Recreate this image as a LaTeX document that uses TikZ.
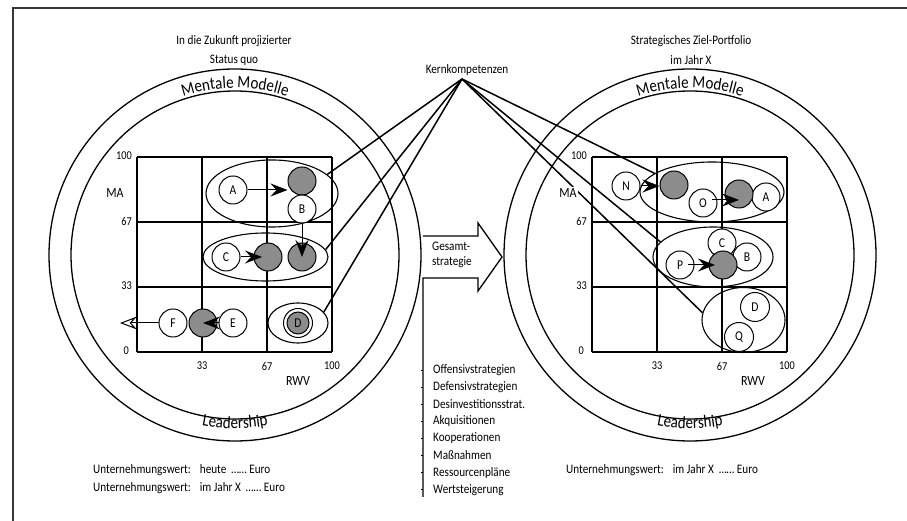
\documentclass[tikz,border=0pt]{standalone}
\usepackage{fontspec}
\setmainfont{Carlito}[FakeStretch=0.86]
\usetikzlibrary{shapes.geometric,arrows.meta,decorations.text,calc}
\definecolor{bubgray}{RGB}{140,140,140}
\definecolor{framegray}{RGB}{55,55,55}
\newcommand\lblfont{\fontsize{13}{15}\selectfont}
\newcommand\tickfont{\fontsize{12}{13}\selectfont}
\newcommand\axfont{\fontsize{14}{15}\selectfont}
\newcommand\bubfont{\fontsize{13.5}{14}\selectfont}
\newcommand\arcfont{\fontsize{17.5}{18}\selectfont}
\begin{document}
\begin{tikzpicture}[x=1pt,y=1pt,
  ring/.style={line width=1.3pt},
  gridl/.style={line width=1.2pt},
  bub/.style={circle, draw, fill=white, minimum size=28pt, inner sep=0pt, line width=1pt, font=\bubfont},
  gbub/.style={bub, fill=bubgray},
  grp/.style={ellipse, draw, inner sep=0pt, line width=1.1pt},
  arr/.style={-{Stealth[length=17pt,width=13pt,inset=6pt]}, line width=1pt},
  arropen/.style={-{Stealth[open,length=17pt,width=13pt,inset=6pt]}, line width=1pt},
  kline/.style={line width=1.5pt},
  lbl/.style={font=\lblfont, inner sep=1pt},
  tick/.style={font=\tickfont, inner sep=1pt},
  axl/.style={font=\axfont, inner sep=1pt}]
\useasboundingbox (0,0) rectangle (907,521);
\fill[white] (0,0) rectangle (907,521);

% outer frame
\draw[framegray, line width=1.5pt] (13,0) -- (13,513) -- (907,513);

% two portfolios: rings, arc texts, grid and scale labels
\foreach \cx/\nm in {235/L,690/R}{
  \begin{scope}[shift={(\cx,266)}]
    \draw[ring] (0,0) circle[radius=186];
    \draw[ring] (0,0) circle[radius=164];
    \path[decorate, decoration={text along path, text align=center,
        text={|\arcfont|Mentale Modelle}}]
      (132:167) arc[start angle=132, end angle=48, radius=167];
    \path[decorate, decoration={text along path, text align=center,
        text={|\arcfont|Leadership}}]
      (235:173.5) arc[start angle=235, end angle=305, radius=173.5];
    \foreach \i in {0,1,2,3}{
      \draw[gridl] (-98+65*\i,-97) -- (-98+65*\i,98);
      \draw[gridl] (-98,-97+65*\i) -- (97,-97+65*\i);
    }
    \node[tick, anchor=east] (\nm-y100) at (-102,99) {100};
    \node[tick, anchor=east] (\nm-y67) at (-102,34) {67};
    \node[tick, anchor=east] (\nm-y33) at (-102,-31) {33};
    \node[tick, anchor=east] (\nm-y0) at (-105,-96) {0};
    \node[tick] (\nm-x33) at (-33,-111) {33};
    \node[tick] (\nm-x67) at (32,-111) {67};
    \node[tick] (\nm-x100) at (97,-111) {100};
    \node[axl] (\nm-rwv) at (63,-126) {RWV};
  \end{scope}
}

% headings
\node[lbl] (head-l1) at (234,480) {In die Zukunft projizierter};
\node[lbl] (head-l2) at (234,461) {Status quo};
\node[lbl] (head-r1) at (691,480) {Strategisches Ziel-Portfolio};
\node[lbl] (head-r2) at (691,461) {im Jahr X};

% left portfolio: groups and business units
\node[grp, minimum width=132pt, minimum height=67pt] (Le1) at (272,327.5) {};
\node[grp, minimum width=125pt, minimum height=48pt] (Le2) at (265.5,264) {};
\node[grp, minimum width=60pt, minimum height=40pt] (Le3) at (298,198) {};
\node[bub] (LA) at (233,331) {A};
\node[gbub] (LgA) at (302,340) {};
\node[bub] (LB) at (302,312) {B};
\node[bub] (LC) at (226,264) {C};
\node[gbub] (LgC) at (268,264) {};
\node[gbub] (LgB) at (302,264) {};
\node[bub] (LF) at (173,198) {F};
\node[bub] (LE) at (233,198) {E};
\node[gbub] (LgE) at (203,198) {};
\node[bub, minimum size=29pt] (LDo) at (298,198) {};
\node[gbub, minimum size=22pt] (LD) at (298,198) {D};
\coordinate (Lout) at (120,198);
\draw[arr] (LA.east) -- (LA.east -| LgA.west);
\draw[arr] (LB.south) -- (LgB.center);
\draw[arr] (LC.east) -- ([xshift=-6pt]LgC.center);
\draw[arr] (LE.west) -- (LgE.center);
\draw[arropen] (LF.west) -- (Lout);

% right portfolio: groups and business units
\node[grp, minimum width=144pt, minimum height=60pt] (Re1) at (712,329) {};
\node[grp, minimum width=120pt, minimum height=60pt] (Re2) at (713,264) {};
\node[grp, minimum width=83pt, minimum height=65pt] (Re3) at (743.5,201) {};
\node[bub] (RN) at (626,335) {N};
\node[gbub] (RgN) at (674,336) {};
\node[bub] (RO) at (703,318) {O};
\node[bub] (RA) at (766,324) {A};
\node[gbub] (RgO) at (739,327) {};
\node[bub] (RC) at (722,278) {C};
\node[bub] (RB) at (747,264) {B};
\node[gbub] (RgP) at (723,256) {};
\node[bub] (RP) at (680,256) {P};
\node[bub, minimum size=29pt] (RD) at (755,214) {D};
\node[bub, minimum size=29pt] (RQ) at (739,184) {Q};
\draw[arr] (RN.east) -- (RN.east -| RgN.west);
\draw[arr] ([shift={(9pt,3pt)}]RO.center) -- ([shift={(0pt,-6pt)}]RgO.center);
\draw[arr] ([xshift=8pt]RP.center) -- ([xshift=-8pt]RgP.center);

% core competences
\node[lbl] (kern) at (467,451) {Kernkompetenzen};
\coordinate (kp) at (462,442);
\draw[kline] (kp) -- (Le1.19);
\draw[kline] (kp) -- (Le2.7);
\draw[kline] (kp) -- (Le3.23);
\draw[kline] (kp) -- (Re1.162);
\draw[kline] (kp) -- (Re2.164);
\draw[kline] (kp) -- (Re3.170);

% axis titles
\node[axl, fill=white] (L-ma) at (115,328) {MA};
\node[axl, fill=white, inner sep=1.5pt] (R-ma) at (568,328) {MA};

% overall strategy arrow and measures
\coordinate (lstbot) at (423,24);
\draw[line width=1.3pt, line join=miter] (423,285) -- (478,285) -- (478,298) -- (502,264)
  -- (478,230) -- (478,243) -- (423,243) -- (lstbot);
\node[lbl, align=left, anchor=west] (gesamt) at (431,266) {Gesamt-\\strategie};
\foreach \t [count=\k from 0] in {Offensivstrategien,Defensivstrategien,Desinvestitionsstrat.,Akquisitionen,Kooperationen,Maßnahmen,Ressourcenpläne,Wertsteigerung}{
  \node[lbl, anchor=west] (item\k) at (432,151-17.1*\k) {\t};
  \draw[line width=0.8pt] (420.5,151-17.1*\k) -- (423,151-17.1*\k);
}

% company values
\node[lbl, anchor=west] (uw1) at (92,51) {Unternehmungswert:\hspace{9pt}heute \ …… Euro};
\node[lbl, anchor=west] (uw2) at (92,33) {Unternehmungswert:\hspace{9pt}im Jahr X \ …… Euro};
\node[lbl, anchor=west] (uw3) at (565,51) {Unternehmungswert:\hspace{9pt}im Jahr X \ …… Euro};
\end{tikzpicture}
\end{document}
